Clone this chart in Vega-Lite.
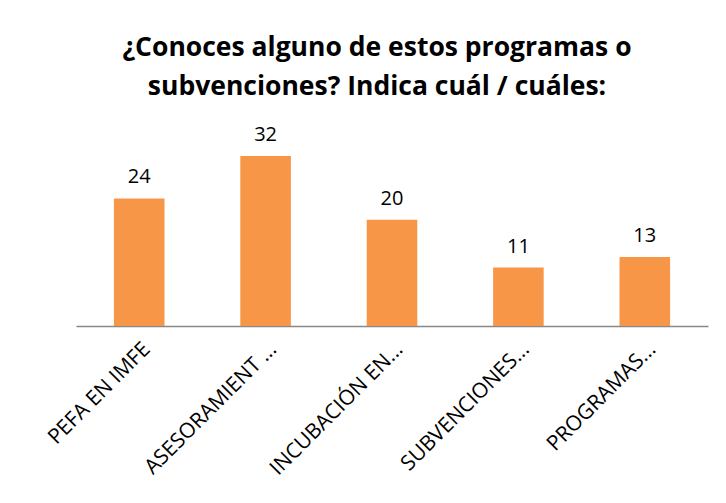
{
  "$schema": "https://vega.github.io/schema/vega-lite/v6.json",
  "autosize": "none",
  "width": 632,
  "height": 186,
  "padding": {"left": 76, "top": 140, "right": 18, "bottom": 177},
  "background": "white",
  "title": {
    "text": ["¿Conoces alguno de estos programas o", "subvenciones? Indica cuál / cuáles:"],
    "font": "Open Sans",
    "fontSize": 26.5,
    "fontWeight": "bold",
    "color": "#000000",
    "lineHeight": 39,
    "anchor": "middle",
    "dx": -15,
    "offset": 24
  },
  "data": {
    "values": [
      {"categoria": "PEFA EN IMFE", "valor": 24},
      {"categoria": "ASESORAMIENT ...", "valor": 32},
      {"categoria": "INCUBACIÓN EN...", "valor": 20},
      {"categoria": "SUBVENCIONES...", "valor": 11},
      {"categoria": "PROGRAMAS...", "valor": 13}
    ]
  },
  "encoding": {
    "x": {
      "field": "categoria",
      "type": "nominal",
      "sort": null,
      "scale": {"paddingInner": 0.6, "paddingOuter": 0.3},
      "axis": {
        "title": null,
        "labelAngle": -45,
        "labelFont": "Open Sans",
        "labelFontSize": 21,
        "labelColor": "#000000",
        "labelPadding": 12,
        "ticks": false,
        "domainColor": "#888888",
        "domainWidth": 1.5,
        "labelLimit": 300
      }
    },
    "y": {
      "field": "valor",
      "type": "quantitative",
      "scale": {"domain": [0, 35]},
      "axis": null
    }
  },
  "layer": [
    {"mark": {"type": "bar", "color": "#F79646"}},
    {
      "mark": {"type": "text", "baseline": "bottom", "dy": -11, "font": "Open Sans", "fontSize": 20, "color": "#000000"},
      "encoding": {"text": {"field": "valor", "type": "quantitative"}}
    }
  ],
  "config": {"view": {"stroke": null}}
}
